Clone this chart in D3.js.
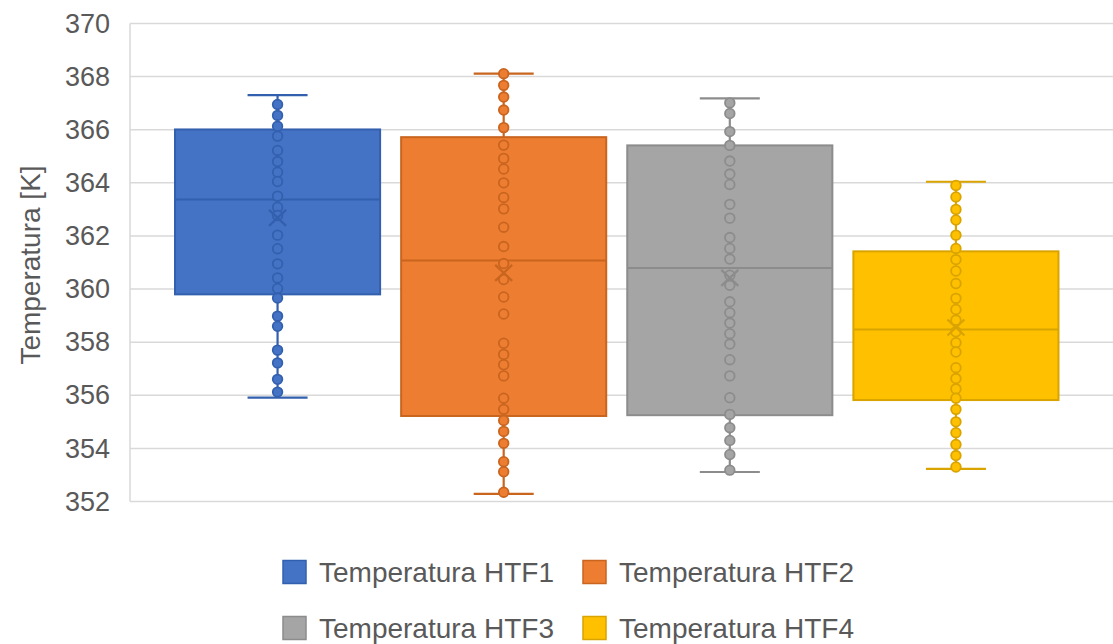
<!DOCTYPE html>
<html>
<head>
<meta charset="utf-8">
<script src="https://cdn.jsdelivr.net/npm/d3@7"></script>
<style>
  html, body { margin: 0; padding: 0; background: #ffffff; }
  svg { display: block; font-family: "Liberation Sans", Arial, sans-serif; }
</style>
</head>
<body>
<svg id="chart" width="1113" height="644"></svg>
<script>
// ---------- data ----------
const seriesNames = ["Temperatura HTF1", "Temperatura HTF2", "Temperatura HTF3", "Temperatura HTF4"];
const yTicks = [352, 354, 356, 358, 360, 362, 364, 366, 368, 370];

const whiskerLow  = [355.91, 352.29, 353.11, 353.23];
const q1          = [359.80, 355.22, 355.25, 355.82];
const median      = [363.37, 361.08, 360.79, 358.48];
const q3          = [366.01, 365.72, 365.41, 361.42];
const whiskerHigh = [367.30, 368.11, 367.18, 364.04];
const mean        = [362.68, 360.61, 360.42, 358.55];

const htf1Points = [366.95, 366.54, 366.13, 365.76, 365.22, 364.80, 364.40, 364.05, 363.50, 363.08,
  362.77, 362.03, 361.52, 360.95, 360.42, 360.02, 359.66, 358.98, 358.60, 357.70, 357.22, 356.60, 356.12];
const htf2Points = [368.11, 367.67, 367.23, 366.74, 366.08, 365.42, 364.92, 364.52, 364.00, 363.45,
  363.02, 362.33, 361.60, 360.96, 360.36, 359.70, 359.06, 357.96, 357.54, 357.15, 356.73, 355.89,
  355.47, 355.05, 354.64, 354.19, 353.50, 353.12, 352.35];
const htf3Points = [367.01, 366.61, 365.93, 365.41, 364.82, 364.33, 363.94, 363.19, 362.67, 361.94,
  361.53, 361.13, 360.52, 360.14, 359.52, 359.11, 358.72, 358.32, 357.93, 357.34, 356.73, 355.91,
  355.28, 354.78, 354.30, 353.77, 353.18];
const htf4Points = [363.90, 363.47, 363.00, 362.60, 362.03, 361.53, 361.11, 360.68, 360.21, 359.65,
  359.23, 358.83, 358.39, 357.98, 357.63, 357.04, 356.63, 356.24, 355.89, 355.47, 355.00, 354.59,
  354.15, 353.73, 353.30];
const pointsBySeries = [htf1Points, htf2Points, htf3Points, htf4Points];

// ---------- styles ----------
const fillColors   = ["#4472C4", "#ED7D31", "#A5A5A5", "#FFC000"];
const strokeColors = ["#3360AE", "#C9651F", "#8C8C8C", "#D9A300"];
const textColor = "#595959";
const gridColor = "#D9D9D9";

// ---------- layout ----------
const svg = d3.select("#chart");
const plotLeft = 130, plotRight = 1113, plotTop = 23.5, plotBottom = 501.5;

const y = d3.scaleLinear().domain([352, 370]).range([plotBottom, plotTop]);
const x = d3.scaleBand().domain(seriesNames).range([164.5, 1069])
  .paddingInner(0.093).paddingOuter(0.0465);

// gridlines
svg.append("g").selectAll("line").data(yTicks).join("line")
  .attr("x1", plotLeft).attr("x2", plotRight)
  .attr("y1", d => y(d)).attr("y2", d => y(d))
  .attr("stroke", gridColor).attr("stroke-width", 1.5);

// left axis line
svg.append("line")
  .attr("x1", plotLeft).attr("x2", plotLeft)
  .attr("y1", y(370)).attr("y2", y(352))
  .attr("stroke", gridColor).attr("stroke-width", 1.5);

// y axis tick labels via d3 axis
const yAxis = d3.axisLeft(y).tickValues(yTicks).tickSize(0).tickPadding(20);
const yAxisG = svg.append("g").attr("transform", `translate(${plotLeft},0)`).call(yAxis);
yAxisG.select(".domain").remove();
yAxisG.selectAll("text")
  .attr("fill", textColor)
  .style("font-size", "27px")
  .style("font-family", "'Liberation Sans', Arial, sans-serif");

// y axis title
svg.append("text")
  .attr("transform", "translate(30,265) rotate(-90)")
  .attr("text-anchor", "middle")
  .attr("dominant-baseline", "central")
  .attr("fill", textColor)
  .style("font-size", "28px")
  .text("Temperatura [K]");

// ---------- boxes ----------
const capW = 60;
seriesNames.forEach((name, i) => {
  const g = svg.append("g");
  const x0 = x(name), bw = x.bandwidth(), cx = x0 + bw / 2;
  const fc = fillColors[i], sc = strokeColors[i];

  // whiskers
  g.append("line").attr("x1", cx).attr("x2", cx)
    .attr("y1", y(whiskerHigh[i])).attr("y2", y(q3[i]))
    .attr("stroke", sc).attr("stroke-width", 2.2);
  g.append("line").attr("x1", cx).attr("x2", cx)
    .attr("y1", y(q1[i])).attr("y2", y(whiskerLow[i]))
    .attr("stroke", sc).attr("stroke-width", 2.2);
  [whiskerHigh[i], whiskerLow[i]].forEach(v => {
    g.append("line").attr("x1", cx - capW / 2).attr("x2", cx + capW / 2)
      .attr("y1", y(v)).attr("y2", y(v))
      .attr("stroke", sc).attr("stroke-width", 2.2);
  });

  // box
  g.append("rect")
    .attr("x", x0).attr("width", bw)
    .attr("y", y(q3[i])).attr("height", y(q1[i]) - y(q3[i]))
    .attr("fill", fc).attr("stroke", sc).attr("stroke-width", 2);

  // median
  g.append("line").attr("x1", x0).attr("x2", x0 + bw)
    .attr("y1", y(median[i])).attr("y2", y(median[i]))
    .attr("stroke", sc).attr("stroke-width", 2);

  // points
  g.selectAll("circle").data(pointsBySeries[i]).join("circle")
    .attr("cx", cx).attr("cy", d => y(d)).attr("r", 4.8)
    .attr("fill", fc).attr("stroke", sc).attr("stroke-width", 1.8);

  // mean X
  const my = y(mean[i]), mx = 8.5, myh = 8;
  g.append("path")
    .attr("d", `M${cx - mx},${my - myh}L${cx + mx},${my + myh}M${cx + mx},${my - myh}L${cx - mx},${my + myh}`)
    .attr("stroke", sc).attr("stroke-width", 2.2).attr("fill", "none");
});

// ---------- legend ----------
const legendCols = [283, 583];
const legendRows = [572, 628];
const sq = 23;
seriesNames.forEach((name, i) => {
  const lx = legendCols[i % 2], ly = legendRows[Math.floor(i / 2)];
  const lg = svg.append("g");
  lg.append("rect").attr("x", lx).attr("y", ly - sq / 2).attr("width", sq).attr("height", sq)
    .attr("fill", fillColors[i]).attr("stroke", strokeColors[i]).attr("stroke-width", 1.5);
  lg.append("text").attr("x", lx + 36).attr("y", ly)
    .attr("dominant-baseline", "central")
    .attr("fill", textColor)
    .style("font-size", "28px")
    .text(name);
});
</script>
</body>
</html>
